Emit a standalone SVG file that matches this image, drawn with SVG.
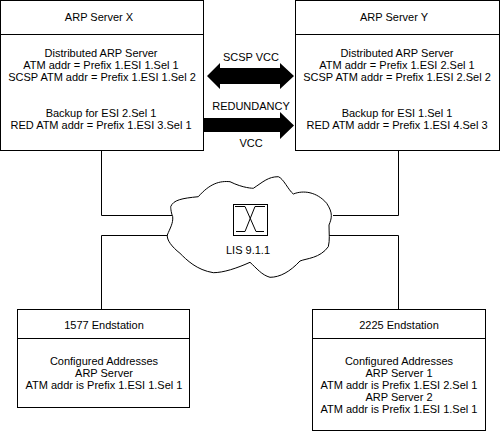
<svg xmlns="http://www.w3.org/2000/svg" width="500" height="432" viewBox="0 0 500 432">
<style>
text{font-family:"Liberation Sans",Arial,sans-serif;font-size:11px;fill:#000;text-anchor:middle}
.l{fill:none;stroke:#000;stroke-width:1}
.b{fill:#fff;stroke:#000;stroke-width:1}
.a{fill:#000;stroke:none}
</style>
<rect width="500" height="432" fill="#fff"/>
<g id="connectors">
<path class="l" d="M101.500 150V215.500H172M101.500 309V235.500H167M398.500 150V215.500H333M398.500 309V235.500H329"/>
<path class="a" id="scsp-arrow" d="M207 76L220 63V68H280V63L294 76L280 89V84H220V89Z"/>
<path class="a" id="red-arrow" d="M204 118H280V112L294 125.500L280 139V132H204Z"/>
</g>
<g id="server-x">
<rect class="b" x="0.500" y="0.500" width="203" height="150"/>
<path class="l" d="M0 34.500H204"/>
<text x="99" y="21">ARP Server X</text>
<text x="101" y="57">Distributed ARP Server</text>
<text x="101" y="69">ATM addr = Prefix 1.ESI 1.Sel 1</text>
<text x="102" y="81">SCSP ATM addr = Prefix 1.ESI 1.Sel 2</text>
<text x="101" y="117">Backup for ESI 2.Sel 1</text>
<text x="101" y="129">RED ATM addr = Prefix 1.ESI 3.Sel 1</text>
</g>
<g id="server-y">
<rect class="b" x="295.500" y="0.500" width="204" height="150"/>
<path class="l" d="M295 34.500H500"/>
<text x="394" y="21">ARP Server Y</text>
<text x="397" y="57">Distributed ARP Server</text>
<text x="397" y="69">ATM addr = Prefix 1.ESI 2.Sel 1</text>
<text x="397" y="81">SCSP ATM addr = Prefix 1.ESI 2.Sel 2</text>
<text x="397" y="117">Backup for ESI 1.Sel 1</text>
<text x="397" y="129">RED ATM addr = Prefix 1.ESI 4.Sel 3</text>
</g>
<g id="labels">
<text x="251" y="61">SCSP VCC</text>
<text x="251" y="110">REDUNDANCY</text>
<text x="251" y="147">VCC</text>
</g>
<g id="cloud">
<path class="b" d="M170.700 206.700C173.300 200 181.700 198.300 198.300 196.700C210 183.300 220 180.700 230 181.700C243.300 188.300 253.300 188.300 253.300 188.300C263.300 181.700 268.300 176.700 278.300 176.700C283.300 178.300 288.300 190 293.300 194C303.300 190 316.700 191.700 326.700 203.300C333.300 213.300 331.700 218.300 329 225C329 233.300 330 240 328.300 246.700C320 258.300 306.700 258.300 300 261C290 271.700 280 277.300 270 277.300C261.700 275 256.700 268.300 250 262.300C236.700 268.300 223.300 272.700 213.300 272.700C196.700 270 186.700 260 180 253.300C171.700 246.700 166.700 240 167.300 235C170 228.300 173.300 223.300 172.700 216.700C170.700 211.700 170.700 206.700 170.700 206.700Z"/>
<rect class="b" x="233.500" y="204.500" width="34" height="31"/>
<path class="l" d="M235 206.500H245L256 231.500H264M265 206.500H255L245 231.500H236"/>
<text x="248" y="254">LIS 9.1.1</text>
</g>
<g id="endstation-1577">
<rect class="b" x="17.500" y="309.500" width="172" height="98"/>
<path class="l" d="M17 338.500H189"/>
<text x="104" y="329">1577 Endstation</text>
<text x="104" y="365">Configured Addresses</text>
<text x="104" y="377">ARP Server</text>
<text x="104" y="389">ATM addr is Prefix 1.ESI 1.Sel 1</text>
</g>
<g id="endstation-2225">
<rect class="b" x="312.500" y="309.500" width="173" height="121"/>
<path class="l" d="M312 338.500H485"/>
<text x="399" y="329">2225 Endstation</text>
<text x="399" y="365">Configured Addresses</text>
<text x="399" y="377">ARP Server 1</text>
<text x="399" y="389">ATM addr is Prefix 1.ESI 2.Sel 1</text>
<text x="399" y="401">ARP Server 2</text>
<text x="399" y="413">ATM addr is Prefix 1.ESI 1.Sel 1</text>
</g>
</svg>
